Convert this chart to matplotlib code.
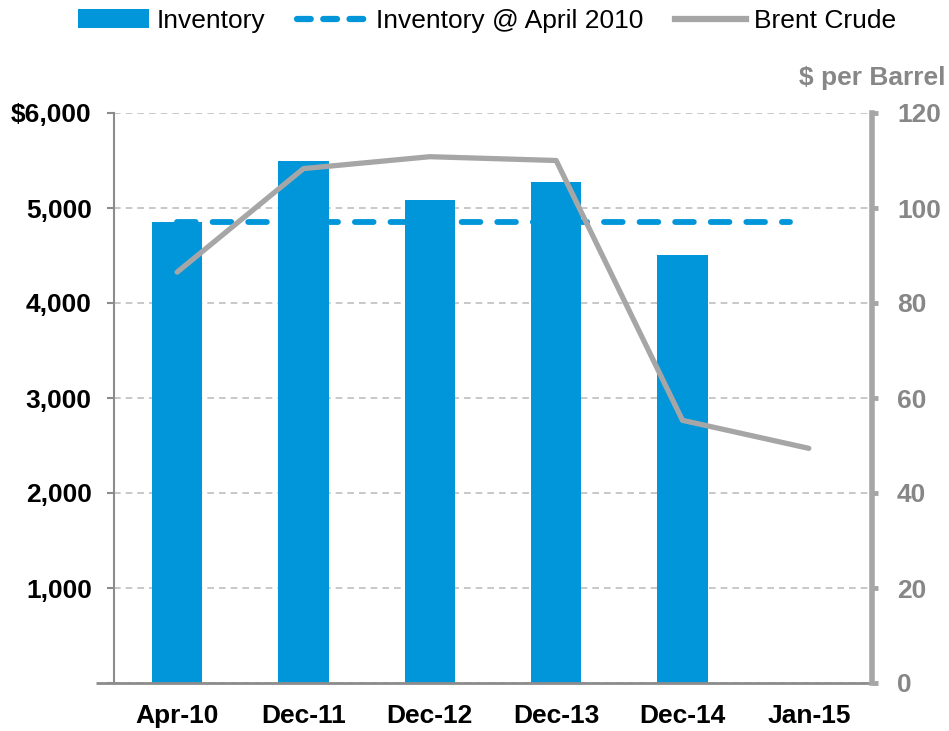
import matplotlib
matplotlib.use("Agg")
import matplotlib.pyplot as plt
from matplotlib.patches import Patch
from matplotlib.lines import Line2D
from matplotlib.ticker import FuncFormatter

categories = ["Apr-10", "Dec-11", "Dec-12", "Dec-13", "Dec-14", "Jan-15"]
inventory = [4850, 5500, 5080, 5270, 4510, None]
inventory_apr2010 = 4850
brent = [86.5, 108.3, 110.8, 110.0, 55.3, 49.4]

BLUE = "#0096D9"
GRAY = "#A6A6A6"
LABEL_GRAY = "#878787"
FS = 19

plt.rcParams['font.family'] = ['Liberation Sans', 'DejaVu Sans']

fig = plt.figure(figsize=(9.49, 7.31), dpi=100)
ax = fig.add_axes([114/949, 1-683/731, (872-114)/949, (683-113)/731])
ax2 = ax.twinx()

x = list(range(len(categories)))
bx = [i for i, v in enumerate(inventory) if v is not None]
bv = [v for v in inventory if v is not None]
ax.bar(bx, bv, width=0.4, color=BLUE, zorder=2)
ax.plot([0, 4.85], [inventory_apr2010]*2, color=BLUE, lw=4.2, dashes=(3.2, 2.9),
        dash_capstyle='round', zorder=3)

ax.set_xlim(-0.5, 5.5)
ax.set_ylim(0, 6000)
ax.set_yticks(range(0, 7000, 1000))
ax.yaxis.set_major_formatter(FuncFormatter(lambda v, p: "$6,000" if v == 6000 else ("" if v == 0 else f"{int(v):,}")))
ax.grid(axis='y', color='#BFBFBF', ls=(0, (4, 3)), lw=1.2, zorder=0)
ax.set_axisbelow(True)
ax.set_xticks(x)
ax.set_xticklabels(categories, fontsize=FS, fontweight='bold')
ax.tick_params(axis='x', length=0, pad=15)
ax.tick_params(axis='y', labelsize=FS, length=5, width=1.5, color='#8C8C8C', pad=11)
for lab in ax.get_yticklabels():
    lab.set_fontweight('bold')
ax.spines['top'].set_visible(False)
ax.spines['right'].set_visible(False)
ax.spines['left'].set_color('#8C8C8C')
ax.spines['left'].set_linewidth(1.5)
ax.spines['bottom'].set_color('#8C8C8C')
ax.spines['bottom'].set_linewidth(2)
ax.spines['bottom'].set_bounds(-0.64, 5.5)
ax.spines['bottom'].set_capstyle('butt')

ax2.plot(x, brent, color=GRAY, lw=3.8, solid_capstyle='round', solid_joinstyle='round', zorder=4)
ax2.set_ylim(0, 120)
ax2.set_yticks(range(0, 140, 20))
ax2.tick_params(axis='y', labelsize=FS, labelcolor=LABEL_GRAY, length=4, width=3.5,
                color=GRAY, pad=14)
for lab in ax2.get_yticklabels():
    lab.set_fontweight('bold')
for s in ['top', 'left', 'bottom']:
    ax2.spines[s].set_visible(False)
ax2.spines['right'].set_color(GRAY)
ax2.spines['right'].set_linewidth(4)
fig.text(872/949, 1-78/731, "$ per Barrel", ha='center', va='center',
         fontsize=FS, fontweight='bold', color=LABEL_GRAY)

handles = [Patch(facecolor=BLUE, edgecolor='none'),
           Line2D([], [], color=BLUE, lw=4.5, dashes=(2.2, 2.0), dash_capstyle='round'),
           Line2D([], [], color=GRAY, lw=4.5)]
labels = ["Inventory", "Inventory @ April 2010", "Brent Crude"]
fig.legend(handles, labels, loc='center', bbox_to_anchor=(487/949, 1-21/731), ncol=3,
           frameon=False, fontsize=FS, handlelength=2.7, handletextpad=0.3,
           columnspacing=1.2, handleheight=0.75, borderaxespad=0)

fig.savefig("out.png", dpi=100)
